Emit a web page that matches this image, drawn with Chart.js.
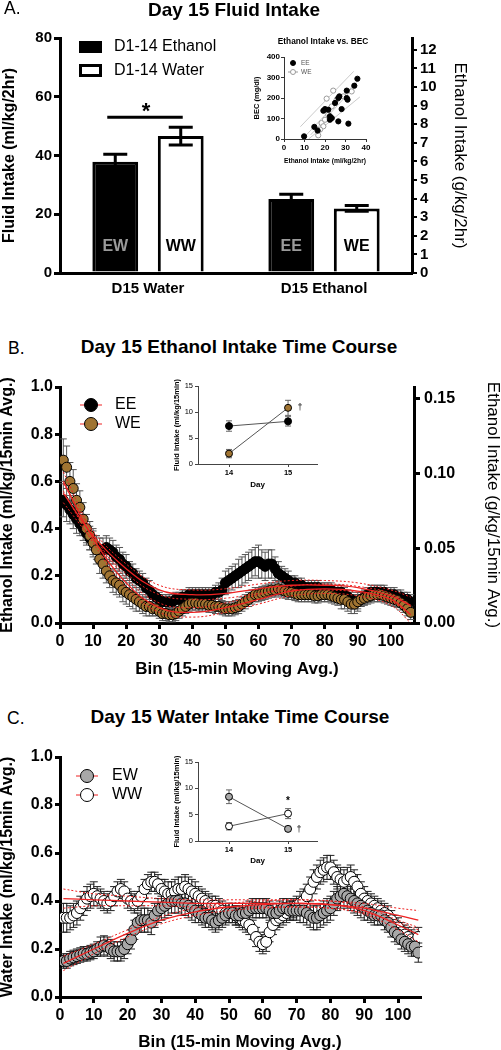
<!DOCTYPE html>
<html>
<head>
<meta charset="utf-8">
<script src="https://cdn.jsdelivr.net/npm/chart.js@4.4.1/dist/chart.umd.min.js"></script>
<style>
  body { margin: 0; background: #fff; }
  #page { position: relative; width: 501px; height: 1050px; overflow: hidden; font-family: 'Liberation Sans', Arial, sans-serif; color: #000; }
  canvas { position: absolute; }
  .lbl { position: absolute; white-space: nowrap; transform: translate(-50%, -50%); line-height: 1; }
  .panel { position: absolute; font-size: 17.5px; line-height: 1; }
  .ttl { font-weight: bold; font-size: 19px; }
</style>
</head>
<body>
<div id="page">
  <canvas id="barChart" width="501" height="300" style="left:0; top:0;"></canvas>
  <canvas id="becChart" width="135" height="140" style="left:240px; top:30px;"></canvas>
  <canvas id="ethCourse" width="501" height="310" style="left:0; top:370px;"></canvas>
  <canvas id="ethDays" width="160" height="125" style="left:165px; top:375px;"></canvas>
  <canvas id="watCourse" width="501" height="313" style="left:0; top:740px;"></canvas>
  <canvas id="watDays" width="160" height="125" style="left:165px; top:750px;"></canvas>

  <div class="panel" style="left:4px; top:0px;">A.</div>
  <div class="lbl ttl" style="left:234px; top:9px;">Day 15 Fluid Intake</div>
  <div class="lbl" style="left:323px; top:41px; font-weight:bold; font-size:8.3px;">Ethanol Intake vs. BEC</div>
  <div class="panel" style="left:8px; top:340px;">B.</div>
  <div class="lbl ttl" style="left:239px; top:346px;">Day 15 Ethanol Intake Time Course</div>
  <div class="panel" style="left:7px; top:710px;">C.</div>
  <div class="lbl ttl" style="left:240px; top:716px;">Day 15 Water Intake Time Course</div>
</div>
<script>
const FONT = "'Liberation Sans', Arial, sans-serif";
const RED = '#ee2222';
const BROWN = '#a07432';
const GREY = '#a8a8a8';

// ---- Panel A: day 15 fluid intake (ml/kg/2hr) ----
const fluidGroups = ['D15 Water', 'D15 Ethanol'];
const legendA = ['D1-14 Ethanol', 'D1-14 Water'];
const ethHistTags = ['EW', 'EE'];
const watHistTags = ['WW', 'WE'];
const ethHistIntake = [37.9, 25.2];
const ethHistErr = [2.5, 1.6];
const watHistIntake = [46.6, 22.0];
const watHistErr = [3.0, 1.0];
const rightTicksA = [0, 1, 2, 3, 4, 5, 6, 7, 8, 9, 10, 11, 12];
const rightMaxA = 12.64; // 80 ml/kg expressed as g/kg
const sigLevelA = 53;

// inset: ethanol intake vs BEC
const becEEx = [9.8, 14.8, 16.4, 19.2, 20, 21.6, 22.4, 23.3, 22.4, 24.9, 26.5, 27, 26.5, 28.1, 30.6, 30.6, 31, 31.4, 34.3, 35.8];
const becEEy = [13, 59, 41, 138, 146, 143, 111, 102, 94, 176, 200, 208, 86, 146, 236, 200, 192, 75, 260, 294];
const becWEx = [24, 20.8, 16.7, 18.3, 19.2, 20, 21.6, 23.3, 25.7, 29, 33, 17.6];
const becWEy = [236, 197, 18, 78, 62, 94, 119, 159, 192, 208, 232, 46];
const becLineXs = [[9, 36], [13, 34], [8, 34], [12, 37]];
const becLineYs = [[0, 285], [20, 250], [60, 330], [0, 205]];

// ---- Panels B and C: 15-min moving average bins ----
const bins = Array.from({ length: 106 }, (_, i) => i + 1);
const binTicks = [0, 10, 20, 30, 40, 50, 60, 70, 80, 90, 100];
const ethTicksB = [0, 0.05, 0.10, 0.15];
const ethMaxB = 0.158; // 1.0 ml/kg as g/kg

const eeIntakeB = [
  0.52, 0.50, 0.48, 0.46, 0.44, 0.42, 0.40, 0.38, 0.36, 0.34,
  0.32, 0.31, 0.31, 0.32, 0.31, 0.30, 0.28, 0.27, 0.25, 0.24,
  0.22, 0.21, 0.19, 0.18, 0.17, 0.15, 0.14, 0.12, 0.11, 0.10,
  0.09, 0.09, 0.09, 0.09, 0.10, 0.10, 0.11, 0.11, 0.12, 0.12,
  0.12, 0.12, 0.12, 0.12, 0.12, 0.12, 0.13, 0.13, 0.14, 0.17,
  0.18, 0.19, 0.20, 0.21, 0.22, 0.23, 0.24, 0.25, 0.26, 0.26,
  0.25, 0.24, 0.25, 0.25, 0.23, 0.21, 0.20, 0.19, 0.18, 0.17,
  0.17, 0.16, 0.16, 0.15, 0.15, 0.15, 0.15, 0.15, 0.14, 0.14,
  0.14, 0.14, 0.13, 0.13, 0.13, 0.12, 0.11, 0.10, 0.09, 0.09,
  0.10, 0.11, 0.12, 0.13, 0.13, 0.13, 0.13, 0.13, 0.12, 0.12,
  0.12, 0.11, 0.11, 0.10, 0.10, 0.09];
const eeErrB = [
  0.07, 0.07, 0.06, 0.06, 0.06, 0.05, 0.05, 0.05, 0.05, 0.05,
  0.05, 0.05, 0.05, 0.05, 0.05, 0.05, 0.05, 0.05, 0.05, 0.05,
  0.04, 0.04, 0.04, 0.04, 0.04, 0.04, 0.04, 0.03, 0.03, 0.03,
  0.03, 0.03, 0.03, 0.03, 0.03, 0.03, 0.03, 0.03, 0.03, 0.03,
  0.03, 0.03, 0.03, 0.03, 0.03, 0.03, 0.03, 0.04, 0.05, 0.05,
  0.05, 0.05, 0.05, 0.06, 0.06, 0.06, 0.06, 0.06, 0.06, 0.07,
  0.06, 0.06, 0.06, 0.06, 0.05, 0.05, 0.04, 0.04, 0.04, 0.03,
  0.03, 0.03, 0.03, 0.03, 0.03, 0.03, 0.03, 0.03, 0.03, 0.03,
  0.03, 0.03, 0.03, 0.03, 0.03, 0.03, 0.03, 0.03, 0.03, 0.03,
  0.03, 0.03, 0.03, 0.03, 0.03, 0.03, 0.03, 0.03, 0.03, 0.03,
  0.03, 0.03, 0.03, 0.03, 0.03, 0.03];
const weIntakeB = [
  0.69, 0.66, 0.60, 0.57, 0.52, 0.49, 0.44, 0.40, 0.37, 0.34,
  0.31, 0.27, 0.25, 0.22, 0.20, 0.18, 0.17, 0.16, 0.14, 0.13,
  0.12, 0.11, 0.10, 0.09, 0.08, 0.07, 0.07, 0.06, 0.06, 0.05,
  0.04, 0.04, 0.035, 0.035, 0.04, 0.05, 0.06, 0.07, 0.08, 0.085,
  0.085, 0.08, 0.08, 0.08, 0.075, 0.075, 0.07, 0.07, 0.065, 0.06,
  0.06, 0.06, 0.065, 0.07, 0.08, 0.09, 0.10, 0.11, 0.12, 0.12,
  0.125, 0.13, 0.135, 0.14, 0.14, 0.145, 0.14, 0.135, 0.13, 0.13,
  0.125, 0.12, 0.12, 0.12, 0.12, 0.12, 0.115, 0.115, 0.12, 0.12,
  0.12, 0.115, 0.11, 0.105, 0.10, 0.10, 0.09, 0.08, 0.08, 0.09,
  0.10, 0.105, 0.11, 0.115, 0.12, 0.12, 0.12, 0.115, 0.11, 0.105,
  0.10, 0.095, 0.085, 0.075, 0.06, 0.045];
const weErrB = [
  0.09, 0.09, 0.08, 0.08, 0.07, 0.07, 0.07, 0.06, 0.06, 0.06,
  0.06, 0.06, 0.06, 0.05, 0.05, 0.05, 0.05, 0.05, 0.05, 0.05,
  0.05, 0.05, 0.05, 0.04, 0.04, 0.04, 0.04, 0.03, 0.03, 0.03,
  0.03, 0.03, 0.03, 0.03, 0.03, 0.03, 0.03, 0.03, 0.03, 0.03,
  0.03, 0.03, 0.03, 0.03, 0.03, 0.03, 0.03, 0.03, 0.03, 0.03,
  0.03, 0.03, 0.03, 0.03, 0.03, 0.03, 0.03, 0.03, 0.03, 0.03,
  0.03, 0.03, 0.03, 0.03, 0.03, 0.03, 0.03, 0.03, 0.03, 0.03,
  0.03, 0.03, 0.03, 0.03, 0.03, 0.03, 0.03, 0.03, 0.03, 0.03,
  0.03, 0.03, 0.03, 0.03, 0.04, 0.04, 0.04, 0.04, 0.04, 0.04,
  0.03, 0.03, 0.03, 0.03, 0.03, 0.03, 0.03, 0.03, 0.03, 0.03,
  0.03, 0.03, 0.03, 0.03, 0.03, 0.03];

const ewIntakeC = [
  0.15, 0.15, 0.16, 0.165, 0.17, 0.175, 0.18, 0.18, 0.185, 0.19,
  0.20, 0.21, 0.215, 0.21, 0.20, 0.19, 0.19, 0.19, 0.20, 0.22,
  0.24, 0.28, 0.31, 0.32, 0.32, 0.32, 0.31, 0.34, 0.36, 0.37,
  0.38, 0.39, 0.40, 0.40, 0.40, 0.39, 0.39, 0.38, 0.37, 0.36,
  0.35, 0.34, 0.33, 0.33, 0.32, 0.31, 0.32, 0.33, 0.34, 0.35,
  0.35, 0.34, 0.34, 0.35, 0.35, 0.36, 0.37, 0.37, 0.37, 0.37,
  0.37, 0.36, 0.35, 0.35, 0.36, 0.37, 0.37, 0.36, 0.36, 0.36,
  0.36, 0.36, 0.35, 0.34, 0.33, 0.33, 0.34, 0.35, 0.36, 0.37,
  0.39, 0.41, 0.42, 0.43, 0.42, 0.41, 0.40, 0.39, 0.38, 0.37,
  0.36, 0.35, 0.34, 0.34, 0.34, 0.32, 0.31, 0.29, 0.27, 0.26,
  0.24, 0.23, 0.22, 0.21, 0.21, 0.185];
const ewErrC = [
  0.03, 0.03, 0.03, 0.03, 0.03, 0.03, 0.03, 0.03, 0.03, 0.03,
  0.03, 0.04, 0.04, 0.04, 0.04, 0.04, 0.04, 0.04, 0.04, 0.04,
  0.04, 0.04, 0.04, 0.05, 0.05, 0.05, 0.05, 0.05, 0.05, 0.05,
  0.05, 0.05, 0.05, 0.05, 0.05, 0.05, 0.05, 0.05, 0.05, 0.05,
  0.04, 0.04, 0.04, 0.04, 0.04, 0.04, 0.04, 0.04, 0.04, 0.04,
  0.04, 0.04, 0.04, 0.04, 0.04, 0.04, 0.04, 0.04, 0.04, 0.04,
  0.04, 0.04, 0.04, 0.04, 0.04, 0.04, 0.04, 0.04, 0.04, 0.04,
  0.05, 0.05, 0.05, 0.05, 0.05, 0.05, 0.05, 0.05, 0.05, 0.05,
  0.05, 0.05, 0.05, 0.05, 0.05, 0.05, 0.05, 0.05, 0.05, 0.05,
  0.04, 0.04, 0.04, 0.04, 0.04, 0.04, 0.04, 0.04, 0.04, 0.04,
  0.04, 0.04, 0.04, 0.04, 0.04, 0.04];
const wwIntakeC = [
  0.33, 0.33, 0.33, 0.34, 0.35, 0.37, 0.39, 0.41, 0.42, 0.43,
  0.42, 0.41, 0.40, 0.39, 0.40, 0.42, 0.44, 0.45, 0.44, 0.41,
  0.40, 0.39, 0.40, 0.42, 0.45, 0.47, 0.48, 0.48, 0.47, 0.45,
  0.44, 0.43, 0.43, 0.44, 0.45, 0.45, 0.46, 0.45, 0.44, 0.43,
  0.42, 0.41, 0.40, 0.39, 0.38, 0.38, 0.37, 0.36, 0.35, 0.35,
  0.35, 0.34, 0.33, 0.32, 0.31, 0.30, 0.28, 0.25, 0.23, 0.22,
  0.23, 0.27, 0.30, 0.32, 0.33, 0.34, 0.35, 0.36, 0.37, 0.38,
  0.39, 0.40, 0.42, 0.45, 0.48, 0.50, 0.52, 0.53, 0.54, 0.54,
  0.52, 0.50, 0.49, 0.48, 0.49, 0.50, 0.48, 0.46, 0.43, 0.41,
  0.40, 0.39, 0.38, 0.37, 0.36, 0.35, 0.34, 0.32, 0.30, 0.29,
  0.27, 0.26, 0.25, 0.24, 0.23, 0.25];
const wwErrC = [
  0.06, 0.06, 0.05, 0.05, 0.05, 0.05, 0.05, 0.05, 0.05, 0.05,
  0.04, 0.04, 0.04, 0.04, 0.04, 0.04, 0.04, 0.04, 0.04, 0.04,
  0.04, 0.04, 0.04, 0.04, 0.04, 0.04, 0.04, 0.04, 0.04, 0.04,
  0.05, 0.05, 0.05, 0.05, 0.05, 0.05, 0.05, 0.05, 0.05, 0.05,
  0.04, 0.04, 0.04, 0.04, 0.04, 0.04, 0.04, 0.04, 0.04, 0.04,
  0.04, 0.04, 0.04, 0.04, 0.04, 0.04, 0.04, 0.04, 0.04, 0.04,
  0.04, 0.04, 0.04, 0.04, 0.04, 0.04, 0.04, 0.04, 0.04, 0.04,
  0.05, 0.05, 0.05, 0.05, 0.05, 0.05, 0.05, 0.05, 0.05, 0.05,
  0.05, 0.05, 0.05, 0.05, 0.05, 0.05, 0.05, 0.05, 0.05, 0.05,
  0.04, 0.04, 0.04, 0.04, 0.04, 0.04, 0.04, 0.04, 0.04, 0.04,
  0.04, 0.04, 0.04, 0.04, 0.04, 0.04];

// polynomial fits with 95% bands
const fitBins = [1, 10, 20, 30, 40, 50, 60, 70, 80, 90, 100, 106];
const eeFitB   = [0.55, 0.37, 0.23, 0.14, 0.12, 0.125, 0.145, 0.16, 0.16, 0.15, 0.115, 0.075];
const eeFitBHi = [0.59, 0.39, 0.25, 0.16, 0.14, 0.145, 0.165, 0.18, 0.18, 0.17, 0.14, 0.11];
const eeFitBLo = [0.51, 0.35, 0.21, 0.12, 0.10, 0.105, 0.125, 0.14, 0.14, 0.13, 0.09, 0.04];
const weFitB   = [0.60, 0.36, 0.17, 0.065, 0.045, 0.065, 0.10, 0.135, 0.145, 0.135, 0.10, 0.035];
const weFitBHi = [0.64, 0.38, 0.19, 0.085, 0.065, 0.085, 0.12, 0.155, 0.165, 0.155, 0.125, 0.07];
const weFitBLo = [0.56, 0.34, 0.15, 0.045, 0.025, 0.045, 0.08, 0.115, 0.125, 0.115, 0.075, 0.0];
const ewFitC   = [0.14, 0.20, 0.265, 0.32, 0.355, 0.375, 0.385, 0.39, 0.385, 0.36, 0.30, 0.26];
const ewFitCHi = [0.17, 0.22, 0.28, 0.335, 0.37, 0.39, 0.40, 0.405, 0.40, 0.375, 0.32, 0.29];
const ewFitCLo = [0.11, 0.18, 0.25, 0.305, 0.34, 0.36, 0.37, 0.375, 0.37, 0.345, 0.28, 0.23];
const wwFitC   = [0.41, 0.405, 0.40, 0.395, 0.39, 0.39, 0.39, 0.39, 0.385, 0.37, 0.34, 0.32];
const wwFitCHi = [0.45, 0.43, 0.42, 0.41, 0.405, 0.405, 0.405, 0.405, 0.40, 0.39, 0.37, 0.36];
const wwFitCLo = [0.37, 0.38, 0.38, 0.38, 0.375, 0.375, 0.375, 0.375, 0.37, 0.35, 0.31, 0.28];

// insets: day 14 vs day 15 (ml/kg/15min)
const insetDays = [14, 15];
const eeDay = [7.3, 8.2];
const eeDayErr = [1.0, 0.9];
const weDay = [2.0, 10.8];
const weDayErr = [0.8, 1.45];
const ewDay = [8.4, 2.3];
const ewDayErr = [1.3, 0.5];
const wwDay = [2.8, 5.2];
const wwDayErr = [0.7, 0.95];

Chart.defaults.font.family = FONT;
Chart.defaults.color = '#000';
Chart.defaults.animation = false;
Chart.defaults.responsive = false;
Chart.defaults.events = [];
Chart.defaults.plugins.legend.display = false;
Chart.defaults.plugins.tooltip.enabled = false;

// error bars drawn from each dataset's "errors" list
function drawErrorBars(chart, o) {
  const ctx = chart.ctx;
  ctx.save();
  ctx.strokeStyle = o.color;
  ctx.lineWidth = o.width;
  chart.data.datasets.forEach((ds, i) => {
    if (!ds.errors) return;
    const meta = chart.getDatasetMeta(i);
    const ys = chart.scales[meta.yAxisID];
    meta.data.forEach((el, j) => {
      const raw = ds.data[j];
      const v = typeof raw === 'object' ? raw.y : raw;
      const top = ys.getPixelForValue(v + ds.errors[j]);
      const bot = ys.getPixelForValue(v - ds.errors[j]);
      ctx.beginPath();
      ctx.moveTo(el.x, top); ctx.lineTo(el.x, bot);
      ctx.moveTo(el.x - o.cap, top); ctx.lineTo(el.x + o.cap, top);
      ctx.moveTo(el.x - o.cap, bot); ctx.lineTo(el.x + o.cap, bot);
      ctx.stroke();
    });
  });
  ctx.restore();
}
const errorBars = {
  id: 'errorBars',
  beforeDatasetsDraw(chart, args, o) { if (!o.onTop) drawErrorBars(chart, o); },
  afterDatasetsDraw(chart, args, o) { if (o.onTop) drawErrorBars(chart, o); }
};

// legend with a circle marker and optional line through it
const markerLegend = {
  id: 'markerLegend',
  afterDraw(chart, args, o) {
    if (!o.items) return;
    const ctx = chart.ctx;
    ctx.save();
    o.items.forEach((it, k) => {
      const cy = o.y + k * o.dy;
      if (it.line) {
        ctx.strokeStyle = it.line;
        ctx.lineWidth = 1;
        ctx.beginPath();
        ctx.moveTo(o.x - o.lineHalf, cy);
        ctx.lineTo(o.x + o.lineHalf, cy);
        ctx.stroke();
      }
      ctx.beginPath();
      ctx.arc(o.x, cy, o.r, 0, Math.PI * 2);
      ctx.fillStyle = it.fill;
      ctx.fill();
      ctx.lineWidth = 1;
      ctx.strokeStyle = it.stroke;
      ctx.stroke();
      ctx.fillStyle = o.textColor || '#000';
      ctx.font = o.font;
      ctx.textAlign = 'left';
      ctx.textBaseline = 'middle';
      ctx.fillText(it.text, o.textX, cy);
    });
    ctx.restore();
  }
};

// small text marks placed in data coordinates
const notes = {
  id: 'notes',
  afterDraw(chart, args, o) {
    if (!o.items) return;
    const ctx = chart.ctx;
    ctx.save();
    o.items.forEach(n => {
      const px = chart.scales.x.getPixelForValue(n.x) + (n.dx || 0);
      const py = chart.scales.y.getPixelForValue(n.y) + (n.dy || 0);
      ctx.font = n.font;
      ctx.fillStyle = '#000';
      ctx.textAlign = 'center';
      ctx.textBaseline = 'middle';
      ctx.fillText(n.text, px, py);
    });
    ctx.restore();
  }
};

// bar tags, significance line and box legend for panel A
const barExtras = {
  id: 'barExtras',
  afterDraw(chart) {
    const ctx = chart.ctx;
    const y = chart.scales.y;
    ctx.save();
    ctx.textAlign = 'center';
    ctx.textBaseline = 'middle';
    ctx.font = 'bold 16px ' + FONT;
    chart.data.datasets.forEach((ds, i) => {
      chart.getDatasetMeta(i).data.forEach((bar, j) => {
        ctx.fillStyle = i === 0 ? '#9a9a9a' : '#000';
        ctx.fillText(ds.tags[j], bar.x, y.bottom - 26);
      });
    });
    const ew = chart.getDatasetMeta(0).data[0];
    const ww = chart.getDatasetMeta(1).data[0];
    const sy = y.getPixelForValue(sigLevelA);
    ctx.strokeStyle = '#000';
    ctx.lineWidth = 3;
    ctx.beginPath();
    ctx.moveTo(ew.x - 8, sy);
    ctx.lineTo(ww.x + 2, sy);
    ctx.stroke();
    ctx.fillStyle = '#000';
    ctx.font = 'bold 22px ' + FONT;
    ctx.textBaseline = 'alphabetic';
    ctx.fillText('*', (ew.x + ww.x) / 2 - 2, sy + 1);
    // legend boxes
    ctx.lineWidth = 3;
    ctx.fillStyle = '#000';
    ctx.fillRect(80.5, 42.5, 20, 9);
    ctx.strokeRect(80.5, 42.5, 20, 9);
    ctx.fillStyle = '#fff';
    ctx.fillRect(80.5, 65.5, 20, 10);
    ctx.strokeRect(80.5, 65.5, 20, 10);
    ctx.fillStyle = '#000';
    ctx.font = '16px ' + FONT;
    ctx.textAlign = 'left';
    ctx.textBaseline = 'middle';
    ctx.fillText(chart.data.datasets[0].label, 114, 47);
    ctx.fillText(chart.data.datasets[1].label, 114, 71);
    ctx.restore();
  }
};

const blackAxis = { drawOnChartArea: false, lineWidth: 3, color: '#000' };

new Chart(document.getElementById('barChart'), {
  type: 'bar',
  data: {
    labels: fluidGroups,
    datasets: [
      { label: legendA[0], data: ethHistIntake, errors: ethHistErr, tags: ethHistTags, yAxisID: 'y',
        backgroundColor: '#000', borderColor: '#000', borderWidth: 3 },
      { label: legendA[1], data: watHistIntake, errors: watHistErr, tags: watHistTags, yAxisID: 'y',
        backgroundColor: '#fff', borderColor: '#000', borderWidth: 3 }
    ]
  },
  options: {
    datasets: { bar: { categoryPercentage: 0.744, barPercentage: 0.70 } },
    layout: { padding: { top: 38, left: 0, right: 0, bottom: 0 } },
    scales: {
      x: {
        grid: { display: false },
        border: { width: 3, color: '#000' },
        ticks: { font: { size: 15, weight: 'bold' }, padding: -1 },
        afterFit: s => { s.height = 27; }
      },
      y: {
        min: 0, max: 80,
        ticks: { stepSize: 20, font: { size: 15, weight: 'bold' }, padding: 2 },
        grid: { ...blackAxis, tickLength: 6 },
        border: { width: 3, color: '#000' },
        title: { display: true, text: 'Fluid Intake (ml/kg/2hr)', font: { size: 16, weight: 'bold', lineHeight: 1.2 }, padding: 0 },
        afterFit: s => { s.width = 60; }
      },
      y2: {
        position: 'right', min: 0, max: rightMaxA,
        afterBuildTicks: s => { s.ticks = rightTicksA.map(v => ({ value: v })); },
        ticks: { font: { size: 15, weight: 'bold' }, padding: 3, autoSkip: false },
        grid: { ...blackAxis, tickLength: 5, lineWidth: 2 },
        border: { width: 3, color: '#000' },
        title: { display: true, text: 'Ethanol Intake (g/kg/2hr)', font: { size: 17, lineHeight: 1.2 }, padding: { top: 31, bottom: 0 } },
        afterFit: s => { s.width = 89; }
      }
    },
    plugins: { errorBars: { color: '#000', width: 3, cap: 12, onTop: true } }
  },
  plugins: [errorBars, barExtras]
});

new Chart(document.getElementById('becChart'), {
  type: 'scatter',
  data: {
    datasets: [
      { data: becEEx.map((x, j) => ({ x, y: becEEy[j] })), pointRadius: 2.6,
        pointBackgroundColor: '#000', pointBorderColor: '#000', pointBorderWidth: 1 },
      { data: becWEx.map((x, j) => ({ x, y: becWEy[j] })), pointRadius: 2.6,
        pointBackgroundColor: '#fff', pointBorderColor: '#9a9a9a', pointBorderWidth: 1 },
      ...becLineXs.map((xs, k) => ({
        type: 'line', showLine: true, data: xs.map((x, j) => ({ x, y: becLineYs[k][j] })),
        borderColor: '#bdbdbd', borderWidth: 0.8, pointRadius: 0
      }))
    ]
  },
  options: {
    layout: { padding: { top: 27, right: 9, left: 0, bottom: 0 } },
    scales: {
      x: {
        type: 'linear', min: 0, max: 40,
        ticks: { stepSize: 10, font: { size: 8, weight: 'bold' }, padding: 1 },
        grid: { drawOnChartArea: false, tickLength: 3, lineWidth: 1, color: '#333' },
        border: { width: 1, color: '#333' },
        title: { display: true, text: 'Ethanol Intake (ml/kg/2hr)', font: { size: 8, weight: 'bold' }, padding: { top: 0, bottom: 4 } },
        afterFit: s => { s.height = 31; }
      },
      y: {
        min: 0, max: 400,
        ticks: { stepSize: 100, font: { size: 8, weight: 'bold' }, padding: 1 },
        grid: { drawOnChartArea: false, tickLength: 3, lineWidth: 1, color: '#333' },
        border: { width: 1, color: '#333' },
        title: { display: true, text: 'BEC (mg/dl)', font: { size: 7.5, weight: 'bold', lineHeight: 1 }, padding: { top: 13, bottom: 0 } },
        afterFit: s => { s.width = 44; }
      }
    },
    plugins: {
      markerLegend: {
        x: 53, y: 33, dy: 9, r: 2.5, lineHalf: 5, textX: 61, font: '6.5px ' + FONT, textColor: '#555',
        items: [
          { text: 'EE', fill: '#000', stroke: '#000' },
          { text: 'WE', fill: '#fff', stroke: '#9a9a9a', line: '#9a9a9a' }
        ]
      }
    }
  },
  plugins: [markerLegend]
});

function courseChart(id, cfg) {
  const datasets = [];
  cfg.fits.forEach(f => {
    [f.lo, f.hi].forEach(band => datasets.push({
      data: fitBins.map((b, k) => ({ x: b, y: band[k] })),
      borderColor: RED, borderWidth: 1, borderDash: [2, 2], pointRadius: 0, tension: 0.4
    }));
    datasets.push({
      data: fitBins.map((b, k) => ({ x: b, y: f.mid[k] })),
      borderColor: RED, borderWidth: 1.3, pointRadius: 0, tension: 0.4
    });
  });
  cfg.series.forEach(s => datasets.push({
    data: s.values.map((v, k) => ({ x: bins[k], y: v })),
    errors: s.errors, showLine: false,
    pointRadius: cfg.r, pointBackgroundColor: s.fill, pointBorderColor: '#000', pointBorderWidth: 1
  }));

  const scales = {
    x: {
      type: 'linear', min: 0, max: cfg.xMax,
      afterBuildTicks: s => { s.ticks = binTicks.map(v => ({ value: v })); },
      ticks: { font: { size: 16, weight: 'bold' }, padding: 3, autoSkip: false },
      grid: { ...blackAxis, tickLength: 6 },
      border: { width: 3, color: '#000' },
      title: { display: true, text: 'Bin (15-min Moving Avg.)', font: { size: 17, weight: 'bold' }, padding: { top: 0, bottom: cfg.xTitlePad } },
      afterFit: s => { s.height = cfg.xHeight; }
    },
    y: {
      min: 0, max: 1,
      ticks: { stepSize: 0.2, font: { size: 16, weight: 'bold' }, padding: 2, callback: v => v.toFixed(1) },
      grid: { ...blackAxis, tickLength: 5 },
      border: { width: 3, color: '#000' },
      title: { display: true, text: cfg.yTitle, font: { size: 16, weight: 'bold', lineHeight: 1 }, padding: 0 },
      afterFit: s => { s.width = 60; }
    }
  };
  if (cfg.right) {
    scales.y2 = {
      position: 'right', min: 0, max: ethMaxB,
      afterBuildTicks: s => { s.ticks = ethTicksB.map(v => ({ value: v })); },
      ticks: { font: { size: 16, weight: 'bold' }, padding: 4, autoSkip: false, callback: v => v.toFixed(2) },
      grid: { ...blackAxis, tickLength: 6 },
      border: { width: 3, color: '#000' },
      title: { display: true, text: cfg.right, font: { size: 17, lineHeight: 1 }, padding: 0 },
      afterFit: s => { s.width = cfg.rightWidth; }
    };
  }
  return new Chart(document.getElementById(id), {
    type: 'line',
    data: { datasets },
    options: {
      layout: { padding: cfg.padding },
      scales,
      plugins: {
        errorBars: { color: cfg.errColor, width: 1, cap: cfg.cap, onTop: false },
        markerLegend: cfg.legend
      }
    },
    plugins: [errorBars, markerLegend]
  });
}

function insetChart(id, cfg) {
  return new Chart(document.getElementById(id), {
    type: 'line',
    data: {
      datasets: cfg.groups.map(g => ({
        data: insetDays.map((d, k) => ({ x: d, y: g.values[k] })),
        errors: g.errors,
        borderColor: '#555', borderWidth: 1,
        pointRadius: 3.5, pointBackgroundColor: g.fill, pointBorderColor: '#000', pointBorderWidth: 1
      }))
    },
    options: {
      layout: { padding: { top: cfg.top, right: 8, left: 0, bottom: 0 } },
      scales: {
        x: {
          type: 'linear', min: 13.475, max: 15.49,
          afterBuildTicks: s => { s.ticks = insetDays.map(v => ({ value: v })); },
          ticks: { font: { size: 7.5, weight: 'bold' }, padding: 1 },
          grid: { drawOnChartArea: false, tickLength: 3, lineWidth: 1, color: '#444' },
          border: { width: 1, color: '#444' },
          title: { display: true, text: 'Day', font: { size: 8, weight: 'bold' }, padding: { top: 0, bottom: cfg.dayPad } },
          afterFit: s => { s.height = cfg.xHeight; }
        },
        y: {
          min: 0, max: 15,
          ticks: { stepSize: 5, font: { size: 7.5 }, padding: 2 },
          grid: { drawOnChartArea: false, tickLength: 3, lineWidth: 1, color: '#444' },
          border: { width: 1, color: '#444' },
          title: { display: true, text: 'Fluid Intake (ml/kg/15min)', font: { size: 7.5, weight: 'bold', lineHeight: 1 }, padding: { top: 8, bottom: 0 } },
          afterFit: s => { s.width = 33; }
        }
      },
      plugins: {
        errorBars: { color: '#666', width: 1, cap: 3, onTop: false },
        notes: { items: cfg.notes }
      }
    },
    plugins: [errorBars, notes]
  });
}

courseChart('ethCourse', {
  xMax: 107, r: 5, cap: 3.5, errColor: '#555',
  padding: { top: 17, left: 0, right: 0, bottom: 0 },
  xHeight: 57, xTitlePad: 0, rightWidth: 87,
  yTitle: 'Ethanol Intake (ml/kg/15min Avg.)',
  right: 'Ethanol Intake (g/kg/15min Avg.)',
  fits: [
    { mid: eeFitB, hi: eeFitBHi, lo: eeFitBLo },
    { mid: weFitB, hi: weFitBHi, lo: weFitBLo }
  ],
  series: [
    { values: weIntakeB, errors: weErrB, fill: BROWN },
    { values: eeIntakeB, errors: eeErrB, fill: '#000' }
  ],
  legend: {
    x: 91, y: 35, dy: 19, r: 6.5, lineHalf: 11, textX: 115, font: '16px ' + FONT,
    items: [
      { text: 'EE', fill: '#000', stroke: '#000', line: RED },
      { text: 'WE', fill: BROWN, stroke: '#000', line: RED }
    ]
  }
});

insetChart('ethDays', {
  top: 11, xHeight: 36, dayPad: 10,
  groups: [
    { values: eeDay, errors: eeDayErr, fill: '#000' },
    { values: weDay, errors: weDayErr, fill: BROWN }
  ],
  notes: [{ text: '\u2020', x: 15, y: weDay[1], dx: 12, dy: 0, font: '9px ' + FONT }]
});

courseChart('watCourse', {
  xMax: 106.5, r: 5.5, cap: 4, errColor: '#222',
  padding: { top: 17, left: 0, right: 81, bottom: 0 },
  xHeight: 56, xTitlePad: 0,
  yTitle: 'Water Intake (ml/kg/15min Avg.)',
  right: null,
  fits: [
    { mid: ewFitC, hi: ewFitCHi, lo: ewFitCLo },
    { mid: wwFitC, hi: wwFitCHi, lo: wwFitCLo }
  ],
  series: [
    { values: ewIntakeC, errors: ewErrC, fill: GREY },
    { values: wwIntakeC, errors: wwErrC, fill: '#fff' }
  ],
  legend: {
    x: 87, y: 36, dy: 19, r: 6.5, lineHalf: 11, textX: 112, font: '16px ' + FONT,
    items: [
      { text: 'EW', fill: GREY, stroke: '#000', line: RED },
      { text: 'WW', fill: '#fff', stroke: '#000', line: RED }
    ]
  }
});

insetChart('watDays', {
  top: 12, xHeight: 34, dayPad: 9,
  groups: [
    { values: ewDay, errors: ewDayErr, fill: GREY },
    { values: wwDay, errors: wwDayErr, fill: '#fff' }
  ],
  notes: [
    { text: '*', x: 15, y: wwDay[1], dx: 0, dy: -12, font: 'bold 10px ' + FONT },
    { text: '\u2020', x: 15, y: ewDay[1], dx: 11, dy: 1, font: '9px ' + FONT }
  ]
});
</script>
</body>
</html>
